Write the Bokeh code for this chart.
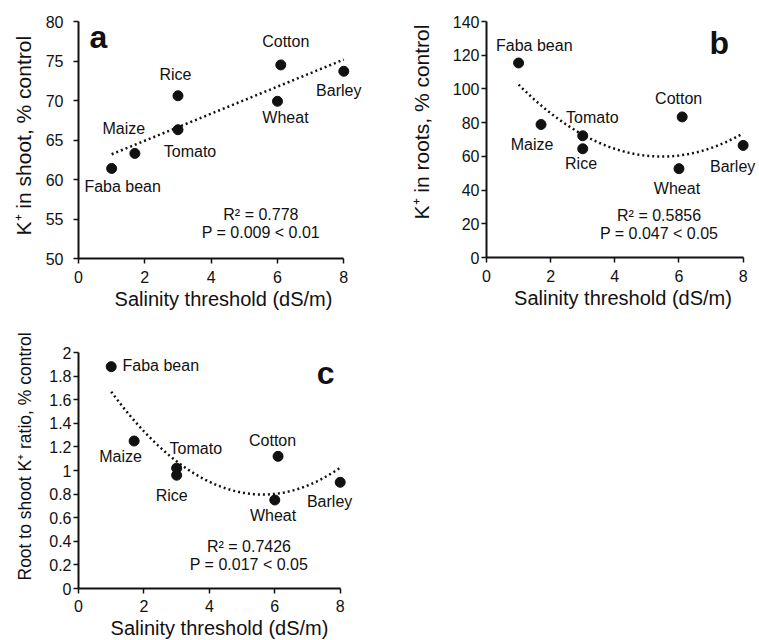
import numpy as np
from bokeh.plotting import figure
from bokeh.models import (Range1d, FixedTicker, LabelSet, Label, ColumnDataSource,
                          CustomJSTickFormatter, Title)
from bokeh.layouts import row, column
from bokeh.core.properties import value
from bokeh.embed import file_html
from bokeh.resources import INLINE

# ---------------- data ----------------
crops = ["Faba bean", "Maize", "Tomato", "Rice", "Wheat", "Cotton", "Barley"]
threshold = [1.0, 1.7, 3.0, 3.0, 6.0, 6.1, 8.0]
k_shoot = [61.4, 63.3, 66.3, 70.6, 69.9, 74.5, 73.7]
k_root = [115.4, 78.9, 72.2, 64.5, 52.7, 83.4, 66.5]
root_shoot_ratio = [1.88, 1.25, 1.02, 0.96, 0.75, 1.12, 0.90]

x_ticks = [0, 2, 4, 6, 8]
ticks_a = [50, 55, 60, 65, 70, 75, 80]
ticks_b = [0, 20, 40, 60, 80, 100, 120, 140]
ticks_c = [0, 0.2, 0.4, 0.6, 0.8, 1.0, 1.2, 1.4, 1.6, 1.8, 2.0]

stats_a = ["R\u00b2 = 0.778", "P = 0.009 < 0.01"]
stats_b = ["R\u00b2 = 0.5856", "P = 0.047 < 0.05"]
stats_c = ["R\u00b2 = 0.7426", "P = 0.017 < 0.05"]

# ---------------- styles (label offsets in screen px, +down) ----------------
off_a = ([11, -11, 12, -2.5, 8, 5, -5], [18, -25, 22, -21.6, 16, -23, 19])
off_b = ([15.7, -9, 9.6, -1.7, -2, -3.5, -10.5], [-17.3, 20, -18, 14.4, 20, -18.6, 20.7])
off_c = ([49.6, -13.6, 19.2, -5, -1.7, -5.5, -10.6], [-0.7, 15.7, -19.4, 20, 15.3, -16, 19.3])

FONT = "Liberation Sans"
INK = "#111111"
TITLE_HAS_STANDOFF = "standoff" in Title.properties()


def panel(yvals, ylabel, yticks, deg, stats, stats_xy, letter, letter_xy, offs,
          frame_w, frame_h, x_end, borders, ylab_size, lab_standoff, ylab_standoff,
          ylab_offset, y_fmt=None, xlab_standoff=2, xtick_standoff=7):
    top, right, bottom, left = borders
    p = figure(frame_width=frame_w, frame_height=frame_h,
               min_border_top=top, min_border_right=right,
               min_border_bottom=bottom, min_border_left=left,
               x_range=Range1d(0, x_end), y_range=Range1d(yticks[0], yticks[-1]),
               output_backend="svg", toolbar_location=None,
               background_fill_color="white", border_fill_color="white")
    p.outline_line_color = None
    p.xgrid.visible = False
    p.ygrid.visible = False

    for ax in (p.xaxis[0], p.yaxis[0]):
        ax.axis_line_color = INK
        ax.axis_line_width = 2
        ax.major_tick_line_color = INK
        ax.major_tick_line_width = 1.5
        ax.major_tick_out = 5
        ax.major_tick_in = 0
        ax.minor_tick_line_color = None
        ax.major_label_text_font = FONT
        ax.major_label_text_font_size = "16px"
        ax.major_label_text_color = INK
        ax.axis_label_text_font = FONT
        ax.axis_label_text_font_style = "normal"
        ax.axis_label_text_color = INK

    p.xaxis.ticker = FixedTicker(ticks=x_ticks)
    p.xaxis.bounds = (x_ticks[0], x_ticks[-1])
    p.xaxis.axis_label = "Salinity threshold (dS/m)"
    p.xaxis.axis_label_text_font_size = "20px"
    p.xaxis.major_label_standoff = xtick_standoff
    p.xaxis.axis_label_standoff = xlab_standoff

    p.yaxis.ticker = FixedTicker(ticks=yticks)
    p.yaxis.major_label_standoff = lab_standoff
    if y_fmt is not None:
        p.yaxis.formatter = y_fmt

    # y title as a side title so it can be placed along the axis
    t_kw = dict(text=ylabel, align="left", offset=ylab_offset,
                text_font=FONT, text_font_style="normal",
                text_font_size=ylab_size, text_color=INK)
    if TITLE_HAS_STANDOFF:
        t_kw["standoff"] = ylab_standoff
    p.add_layout(Title(**t_kw), "left")

    # trend line fitted from the data
    coef = np.polyfit(threshold, yvals, deg)
    xs = np.linspace(threshold[0], threshold[-1], 120)
    p.line(xs, np.polyval(coef, xs), line_color=INK, line_width=2.5, line_dash="2 3")

    src = ColumnDataSource(dict(x=threshold, y=yvals, name=crops,
                                dx=offs[0], dy=[-d for d in offs[1]]))
    p.scatter("x", "y", source=src, size=10, color=INK)
    p.add_layout(LabelSet(x="x", y="y", text="name", source=src,
                          x_offset="dx", y_offset="dy",
                          text_align="center", text_baseline="middle",
                          text_font=value(FONT), text_font_size="16px",
                          text_color=INK))
    sx, sy1, sy2 = stats_xy
    for txt, yy in zip(stats, (sy1, sy2)):
        p.add_layout(Label(x=sx, y=yy, text=txt, text_align="center",
                           text_baseline="middle", text_font=FONT,
                           text_font_size="16px", text_color=INK))
    p.add_layout(Label(x=letter_xy[0], y=letter_xy[1], text=letter,
                       text_align="left", text_baseline="alphabetic",
                       text_font=FONT, text_font_style="bold",
                       text_font_size="32px", text_color=INK))
    return p


pa = panel(k_shoot, "K\u207a in shoot, % control", ticks_a, 1, stats_a,
           (5.5, 55.6, 53.3), "a", (0.33, 78.0), off_a,
           290, 237, 8.745, (19, 22, 56, 78), "21px", 10, 16, 23)

pb = panel(k_root, "K\u207a in roots, % control", ticks_b, 2, stats_b,
           (5.38, 25, 14.2), "b", (6.95, 127.3), off_b,
           273, 236, 8.51, (21, 0, 55, 96), "21px", 2, 33, 38)

fmt_c = CustomJSTickFormatter(code="return (Math.round(tick*10)/10).toString();")
pc = panel(root_shoot_ratio, "Root to shoot K\u207a ratio, % control", ticks_c, 2, stats_c,
           (5.21, 0.357, 0.207), "c", (7.28, 1.827), off_c,
           282, 236, 8.62, (40, 20, 52, 78), "17.5px", 2, 24, 8, y_fmt=fmt_c,
           xlab_standoff=2, xtick_standoff=6)

layout = column(row(pa, pb), pc)
open("out.html", "w").write(file_html(layout, INLINE))
